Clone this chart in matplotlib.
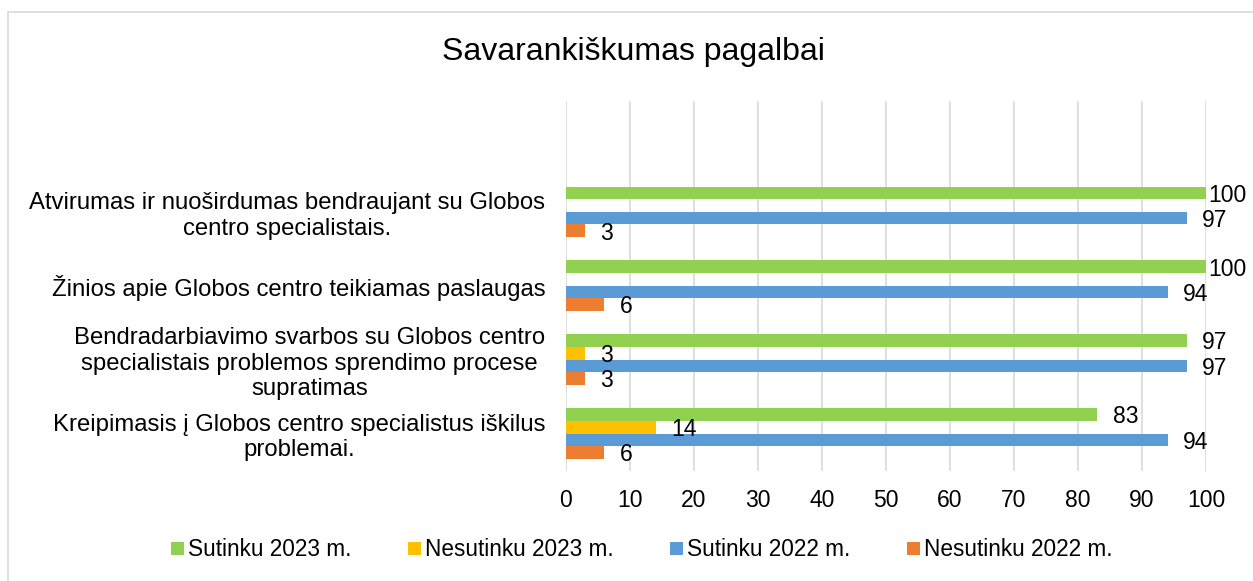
import numpy as np
import matplotlib.pyplot as plt
from matplotlib.patches import Rectangle

plt.rcParams['font.family'] = ['Liberation Sans', 'DejaVu Sans']

# Categories from bottom to top (top slot is empty in the original)
categories = [
    "Kreipimasis į Globos centro specialistus iškilus\nproblemai.",
    "Bendradarbiavimo svarbos su Globos centro\nspecialistais problemos sprendimo procese\nsupratimas",
    "Žinios apie Globos centro teikiamas paslaugas",
    "Atvirumas ir nuoširdumas bendraujant su Globos\ncentro specialistais.",
    "",
]
series_names = ["Sutinku 2023 m.", "Nesutinku 2023 m.", "Sutinku 2022 m.", "Nesutinku 2022 m."]
sutinku_2023 = [83, 97, 100, 100, 0]
nesutinku_2023 = [14, 3, 0, 0, 0]
sutinku_2022 = [94, 97, 94, 97, 0]
nesutinku_2022 = [6, 3, 6, 3, 0]
colors = ["#92D050", "#FFC000", "#5B9BD5", "#ED7D31"]

fig = plt.figure(figsize=(12.53, 5.81), dpi=100)
fig.patches.append(Rectangle((8 / 1253, -0.05), 1.1, 1.05 - 12 / 581, transform=fig.transFigure,
                             fill=False, edgecolor="#D9D9D9", linewidth=1.2))
ax = fig.add_axes([566 / 1253, 1 - 470.5 / 581, 640 / 1253, 369.5 / 581])

y = np.arange(len(categories))
h = 0.171
all_series = [sutinku_2023, nesutinku_2023, sutinku_2022, nesutinku_2022]
for i, (vals, name, c) in enumerate(zip(all_series, series_names, colors)):
    pos = y + (1.5 - i) * h
    bars = ax.barh(pos, vals, height=h, color=c, label=name, zorder=3)
    for b, v in zip(bars, vals):
        if v > 0:
            # labels are kept inside the chart area, like Excel does
            ax.text(min(v + 2.4, 100.3), b.get_y() + h / 2 - 0.03, str(v), va="center", ha="left",
                    fontsize=16.5, color="black", zorder=4, clip_on=False)

ax.set_xlim(0, 100)
ax.set_ylim(-0.5, len(categories) - 0.5)
ax.set_xticks(np.arange(0, 101, 10))
ax.set_yticks(y)
ax.set_yticklabels(categories, fontsize=17.2, multialignment="center")
ax.tick_params(axis="x", length=0, labelsize=16.5, pad=13)
ax.tick_params(axis="y", length=0, pad=15)
ax.grid(axis="x", color="#D9D9D9", linewidth=1.2, zorder=0)
for s in ax.spines.values():
    s.set_visible(False)

fig.text(633 / 1253, 1 - 52 / 581, "Savarankiškumas pagalbai", ha="center", va="center", fontsize=23)

fig.legend(loc="center", bbox_to_anchor=(642 / 1253, 1 - 550 / 581), ncol=4, frameon=False,
           fontsize=16.3, handlelength=0.55, handleheight=0.55, handletextpad=0.2, columnspacing=2.5)

fig.savefig("out.png", dpi=100)
